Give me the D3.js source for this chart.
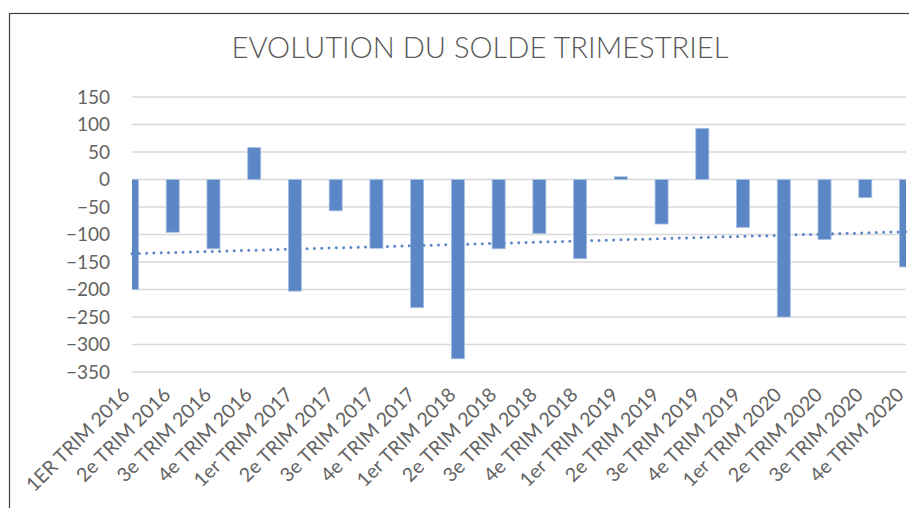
<!DOCTYPE html>
<html>
<head>
<meta charset="utf-8">
<script src="https://cdn.jsdelivr.net/npm/d3@7"></script>
<style>
  body { margin: 0; background: #fff; }
  svg { display: block; }
</style>
</head>
<body>
<script>
// quarters and balance
var quarters = ["1ER TRIM 2016", "2e TRIM 2016", "3e TRIM 2016", "4e TRIM 2016",
  "1er TRIM 2017", "2e TRIM 2017", "3e TRIM 2017", "4e TRIM 2017",
  "1er TRIM 2018", "2e TRIM 2018", "3e TRIM 2018", "4e TRIM 2018",
  "1er TRIM 2019", "2e TRIM 2019", "3e TRIM 2019", "4e TRIM 2019",
  "1er TRIM 2020", "2e TRIM 2020", "3e TRIM 2020", "4e TRIM 2020"]
var solde = [-200, -96, -126, 58, -203, -57, -125, -233, -326, -126, -98, -144,
  5, -81, 93, -87, -250, -109, -33, -159]
var yTicks = [150, 100, 50, 0, -50, -100, -150, -200, -250, -300, -350]

var w = 909, h = 508
var plotLeft = 132, plotRight = 906, plotTop = 97, plotBottom = 372

var svg = d3.select("body").append("svg")
  .attr("width", w)
  .attr("height", h)

// chart frame (runs off the picture on the right and bottom)
svg.append("rect")
  .attr("x", 9.5).attr("y", 13.5)
  .attr("width", 920).attr("height", 520)
  .attr("fill", "none")
  .attr("stroke", "#3f3f3f")
  .attr("stroke-width", 1.2)

// title
svg.append("text")
  .attr("x", 480).attr("y", 58)
  .attr("text-anchor", "middle")
  .attr("font-family", "Lato, 'Open Sans', sans-serif")
  .attr("font-weight", 300)
  .attr("font-size", 29)
  .attr("fill", "#595959")
  .attr("textLength", 497)
  .attr("lengthAdjust", "spacingAndGlyphs")
  .text("EVOLUTION DU SOLDE TRIMESTRIEL")

var xScale = d3.scalePoint()
  .domain(quarters)
  .range([plotLeft, plotRight])
  .padding(0)

var yScale = d3.scaleLinear()
  .domain([-350, 150])
  .range([plotBottom, plotTop])

// gridlines
svg.append("g")
  .selectAll("line")
  .data(yTicks)
  .enter().append("line")
  .attr("x1", plotLeft).attr("x2", plotRight)
  .attr("y1", function(d) { return yScale(d) })
  .attr("y2", function(d) { return yScale(d) })
  .attr("stroke", "#d9d9d9")
  .attr("stroke-width", 1.4)

// y axis labels
svg.append("g")
  .attr("transform", "translate(110,0)")
  .call(d3.axisLeft(yScale).tickValues(yTicks).tickSize(0).tickPadding(0))
  .call(function(g) { g.select(".domain").remove() })
  .selectAll("text")
  .attr("font-family", "Lato, 'Open Sans', sans-serif")
  .attr("font-size", 19)
  .attr("fill", "#636363")

// clip for bars at plot edges
svg.append("clipPath").attr("id", "plot")
  .append("rect")
  .attr("x", plotLeft).attr("y", 0)
  .attr("width", plotRight - plotLeft).attr("height", h)

var barW = xScale.step() * 0.32

svg.append("g")
  .attr("clip-path", "url(#plot)")
  .selectAll("rect")
  .data(solde)
  .enter().append("rect")
  .attr("x", function(d, i) { return xScale(quarters[i]) - barW / 2 })
  .attr("y", function(d) { return yScale(Math.max(d, 0)) })
  .attr("width", barW)
  .attr("height", function(d) { return Math.abs(yScale(d) - yScale(0)) })
  .attr("fill", "#5b87c6")
  .attr("stroke", "#a9c0e4")
  .attr("stroke-width", 0.8)

// linear trendline (least squares on the quarter index)
var n = solde.length
var xs = d3.range(1, n + 1)
var mx = d3.mean(xs), my = d3.mean(solde)
var slope = d3.sum(xs, function(x, i) { return (x - mx) * (solde[i] - my) }) /
  d3.sum(xs, function(x) { return (x - mx) * (x - mx) })
var icpt = my - slope * mx

svg.append("line")
  .attr("x1", xScale(quarters[0]))
  .attr("x2", xScale(quarters[n - 1]))
  .attr("y1", yScale(icpt + slope * 1))
  .attr("y2", yScale(icpt + slope * n))
  .attr("stroke", "#5b87c6")
  .attr("stroke-width", 3)
  .attr("stroke-linecap", "round")
  .attr("stroke-dasharray", "0 7.3")

// x labels, rotated
svg.append("g")
  .selectAll("text")
  .data(quarters)
  .enter().append("text")
  .attr("transform", function(d) {
    return "translate(" + (xScale(d) - 1) + ",396) rotate(-45)"
  })
  .attr("text-anchor", "end")
  .attr("font-family", "Lato, 'Open Sans', sans-serif")
  .attr("font-size", 19.5)
  .attr("fill", "#636363")
  .text(function(d) { return d })
</script>
</body>
</html>
